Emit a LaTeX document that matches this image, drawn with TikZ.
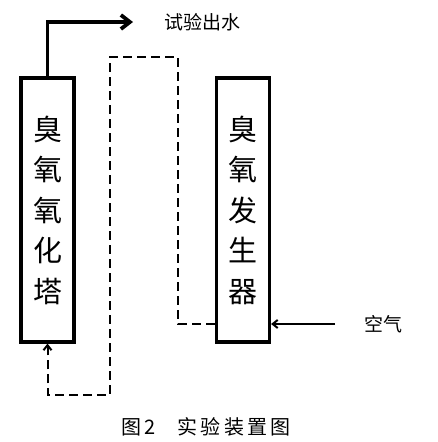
\documentclass[tikz,border=0pt]{standalone}
\usepackage{fontspec}
\usepackage{tikz}
\usetikzlibrary{arrows.meta, positioning}
\newfontfamily\cjk{Noto Sans CJK SC}

\begin{document}
\begin{tikzpicture}[x=1pt, y=-1pt,
    unit/.style={draw, line width=3.2pt, minimum width=53pt, minimum height=264pt,
        inner sep=0pt, align=center, font=\cjk\fontsize{29}{40.5}\selectfont},
    outflow/.style={line width=3.8pt, -{Straight Barb[length=9pt, width=14pt]}},
    recycle/.style={line width=2pt, dash pattern=on 9pt off 5pt,
        -{Straight Barb[length=5pt, width=8pt]}},
    airflow/.style={line width=2pt, -{Straight Barb[length=5pt, width=8pt]}},
    label/.style={font=\cjk\fontsize{19}{19}\selectfont}]
\useasboundingbox (0,0) rectangle (437,442);

% Reactor units
\node[unit] (tower) at (47.5,210) {臭\\氧\\氧\\化\\塔};
\node[unit] (generator) at (243,210) {臭\\氧\\发\\生\\器};

% Treated water out
\coordinate (waterout) at (133,22);
\draw[outflow] (tower.north) |- (waterout);
\node[label, right=28pt of waterout] (water) {试验出水};

% Air in
\coordinate (airin) at (335,324);
\draw[airflow] (airin) -- (airin -| generator.east);
\node[label, right=26pt of airin] (air) {空气};

% Ozone gas line
\coordinate (turnR) at (178,57);
\coordinate (turnL) at (110,395);
\draw[recycle] (airin -| generator.west) -| (turnR) -| (turnL) -| (tower.south);

% Caption
\node[font=\cjk\fontsize{20}{20}\selectfont] (caption) at (206,427)
    {图\,2\hspace{22pt}实\,验\,装\,置\,图};
\end{tikzpicture}
\end{document}
